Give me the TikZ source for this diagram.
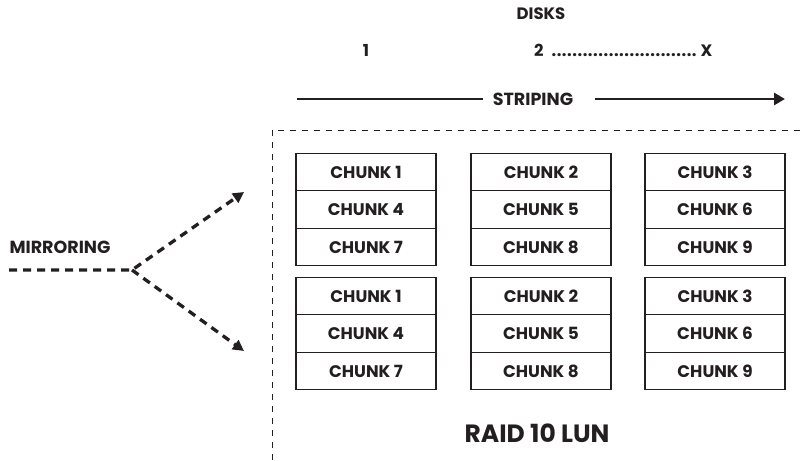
\documentclass[tikz,border=0pt]{standalone}
\usepackage{fontspec}
\setmainfont{Poppins}
\usetikzlibrary{arrows.meta}
\definecolor{ink}{HTML}{231F20}
\tikzset{
  chunk/.style={draw=ink, line width=1.1pt, minimum width=140pt, minimum height=37.5pt, inner sep=0pt, font=\fontsize{16.8}{18}\selectfont\bfseries, text=ink},
  lbl/.style={font=\fontsize{16.5}{18}\selectfont\bfseries, text=ink, inner sep=0pt},
  biglbl/.style={font=\fontsize{17.5}{20}\selectfont\bfseries, text=ink, inner sep=0pt},
  mirror/.style={draw=ink, line width=3.3pt, dash pattern=on 8pt off 6pt, -{Triangle[length=11pt,width=11pt]}},
}
\begin{document}
\begin{tikzpicture}[x=1pt,y=-1pt]
\useasboundingbox (0,0) rectangle (802,460);
% top labels
\node[lbl] (disks) at (541,14) {DISKS};
\node[lbl] (d1) at (366,50) {1};
\node[lbl,anchor=west] (dx) at (534,50) {2\hspace{7pt}\makebox[147pt]{\cleaders\hbox to 5.2pt{\hss.\hss}\hfill}\hspace{3pt}X};
% striping
\node[biglbl] (striping) at (533,99) {STRIPING};
\coordinate (sl) at (297,99);
\coordinate (sa) at (483,99);
\coordinate (sb) at (595,99);
\coordinate (sr) at (785,99);
\draw[ink, line width=2.8pt] (sl) -- (sa);
\draw[ink, line width=2.8pt, -{Triangle[length=11pt,width=12pt]}] (sb) -- (sr);
% frame
\coordinate (fb) at (272,460);
\coordinate (fc) at (272,130);
\coordinate (fr) at (802,130);
\draw[ink, line width=1pt, dash pattern=on 6pt off 6pt] (fb) -- (fc) -- (fr);
% chunks
\foreach \g/\y in {a/172, b/296}{
  \foreach \c/\x [count=\ci] in {1/366, 2/541, 3/715}{
    \foreach \r [evaluate=\r as \n using int(3*(\r-1)+\ci)] in {1,2,3}{
      \node[chunk] (\g\r\ci) at (\x,\y+37.5*\r-37.5) {CHUNK \n};
    }
  }
}
% RAID label
\node[font=\fontsize{25}{28}\selectfont\bfseries, text=ink, inner sep=0pt] (raid) at (537,433) {RAID 10 LUN};
% mirroring
\node[biglbl] (mirroring) at (60,247) {MIRRORING};
\coordinate (m0) at (9,270);
\coordinate (mj) at (132,270);
\coordinate (mu) at (244,192);
\coordinate (md) at (244,351);
\draw[mirror] (m0) -- (mj) -- (mu);
\draw[mirror] (mj) -- (md);
\end{tikzpicture}
\end{document}
